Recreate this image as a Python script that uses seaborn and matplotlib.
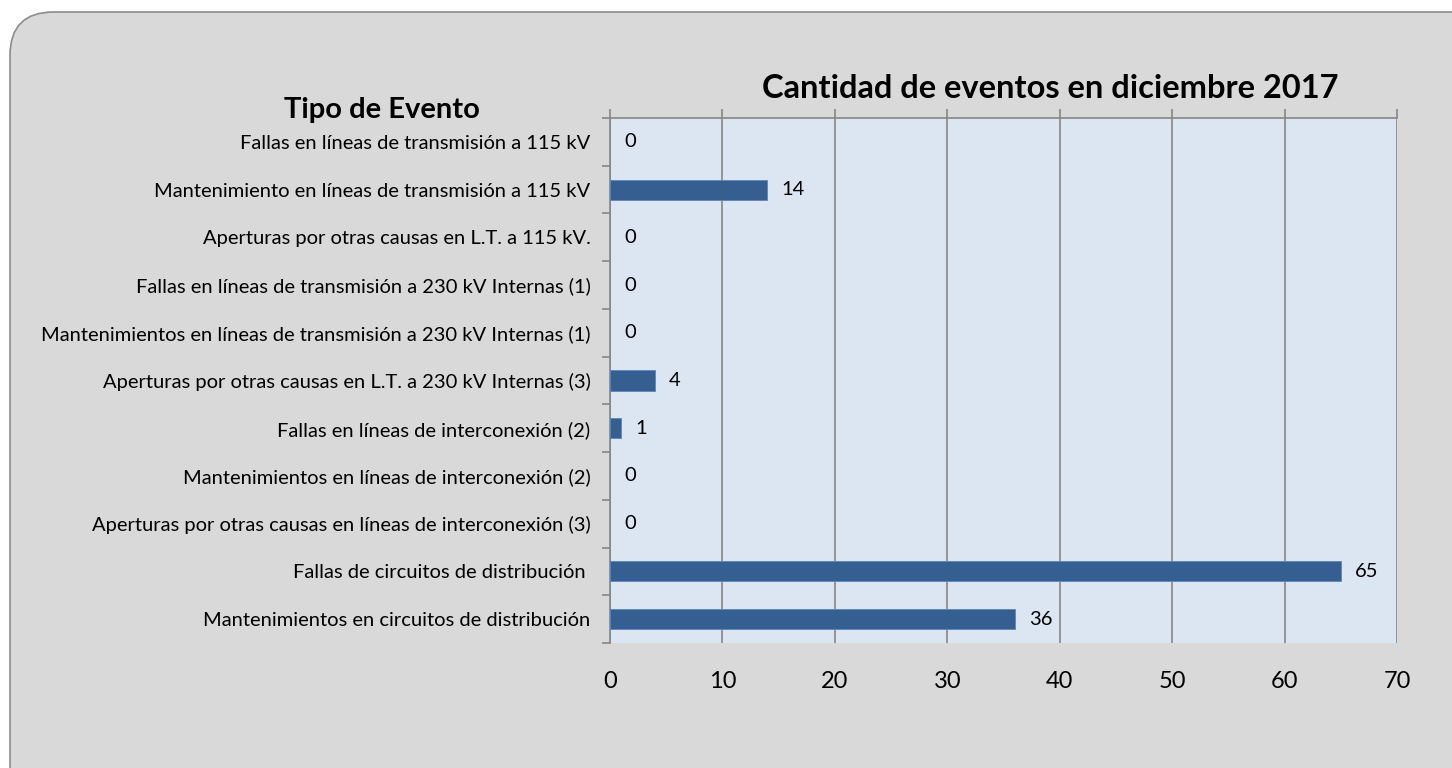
import pandas as pd
import seaborn as sns
import matplotlib.pyplot as plt
from matplotlib.patches import FancyBboxPatch
from matplotlib.ticker import FixedLocator

categorias = [
    "Fallas en líneas de transmisión a 115 kV",
    "Mantenimiento en líneas de transmisión a 115 kV",
    "Aperturas por otras causas en L.T. a 115 kV.",
    "Fallas en líneas de transmisión a 230 kV Internas (1)",
    "Mantenimientos en líneas de transmisión a 230 kV Internas (1)",
    "Aperturas por otras causas en L.T. a 230 kV Internas (3)",
    "Fallas en líneas de interconexión (2)",
    "Mantenimientos en líneas de interconexión (2)",
    "Aperturas por otras causas en líneas de interconexión (3)",
    "Fallas de circuitos de distribución ",
    "Mantenimientos en circuitos de distribución",
]
eventos = [0, 14, 0, 0, 0, 4, 1, 0, 0, 65, 36]
x_ticks = [0, 10, 20, 30, 40, 50, 60, 70]

df = pd.DataFrame({"Tipo de Evento": categorias, "Cantidad": eventos})

sns.set_style("white")
plt.rcParams["font.family"] = ["Lato", "DejaVu Sans"]
plt.rcParams["text.color"] = "black"
plt.rcParams["xtick.labelcolor"] = "black"
plt.rcParams["ytick.labelcolor"] = "black"

fig = plt.figure(figsize=(14.52, 7.68), dpi=100)
fig.patch.set_facecolor("white")

# rounded gray panel behind the chart
panel = FancyBboxPatch((10 / 1452, -0.1), 1.2, 1.1 - 12 / 768,
                       boxstyle="round,pad=0,rounding_size=0.03",
                       transform=fig.transFigure, facecolor="#d9d9d9",
                       edgecolor="#8c8c8c", linewidth=1.2, zorder=-5,
                       mutation_aspect=1452 / 768)
fig.patches.append(panel)

ax = fig.add_axes([610 / 1452, 125 / 768, 787 / 1452, 525 / 768])
ax.set_facecolor("#dce6f2")

sns.barplot(data=df, x="Cantidad", y="Tipo de Evento", orient="h", ax=ax,
            color="#355f91", width=0.42, edgecolor="#5b86b9", linewidth=0.6,
            saturation=1, zorder=3)
for bar, v in zip(ax.patches, eventos):
    if v == 0:
        bar.set_linewidth(0)

ax.set_xlim(0, 70)
ax.set_ylim(10.5, -0.5)
ax.set_xticks(x_ticks)
ax.xaxis.grid(True, color="#868686", linewidth=1.2, zorder=1)
ax.set_axisbelow(True)

ax.tick_params(axis="x", bottom=False, top=True, labelbottom=True,
               direction="out", length=6.5, width=1.2, color="#868686",
               labelsize=17, pad=14)
ax.tick_params(axis="y", which="major", left=False, length=0,
               labelsize=14.5, pad=14)
ax.yaxis.set_minor_locator(FixedLocator([i - 0.5 for i in range(12)]))
ax.tick_params(axis="y", which="minor", left=True, direction="out",
               length=6, width=1.2, color="#868686")

for s in ["left", "top"]:
    ax.spines[s].set_color("#868686")
    ax.spines[s].set_linewidth(1.2)
ax.spines["bottom"].set_visible(False)
ax.spines["right"].set_visible(False)

ax.set_xlabel("")
ax.set_ylabel("")

ax.bar_label(ax.containers[0], labels=[str(v) for v in eventos],
             padding=10, fontsize=14.5, color="black")

fig.text(1050 / 1452, 1 - 88 / 768, "Cantidad de eventos en diciembre 2017",
         ha="center", va="center", fontsize=23.5, fontweight="bold")
fig.text(382 / 1452, 1 - 110 / 768, "Tipo de Evento",
         ha="center", va="center", fontsize=21, fontweight="bold")

fig.savefig("out.png", dpi=100, facecolor=fig.get_facecolor())
